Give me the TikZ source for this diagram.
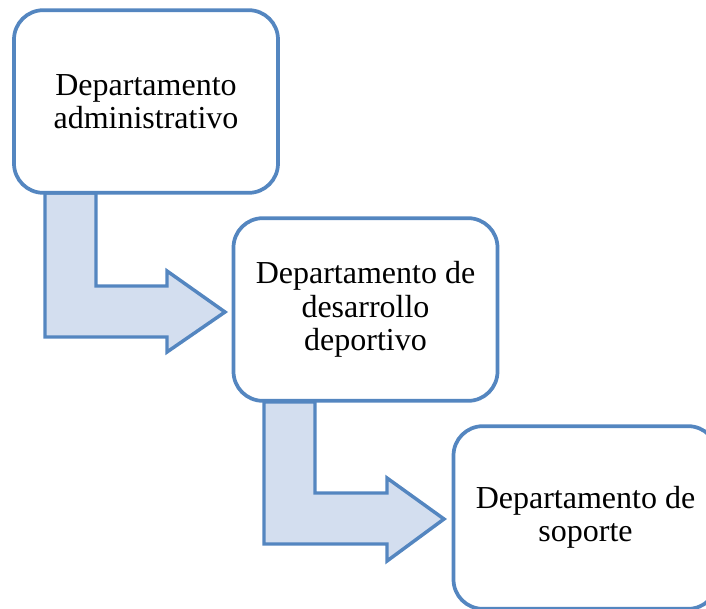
\documentclass[tikz,border=0pt]{standalone}
\usepackage{fontspec}
\setmainfont{Liberation Serif}
\definecolor{bordeazul}{RGB}{84,134,192}
\definecolor{rellenoazul}{RGB}{211,222,239}
\tikzset{
  deptbox/.style={draw=bordeazul, line width=2.8pt, fill=white, rounded corners=22pt,
    minimum width=198pt, minimum height=137pt, align=center,
    font=\fontsize{24}{25}\selectfont},
  bentarrow/.style={draw=bordeazul, line width=2.6pt, fill=rellenoazul, line join=miter}
}
\begin{document}
\begin{tikzpicture}[x=0.75pt,y=-0.75pt]
\clip (0,0) rectangle (706,608);
\useasboundingbox (0,0) rectangle (706,608);

% bent arrows (under the boxes)
\draw[bentarrow] (45,193) -- ++(51,0) -- ++(0,93) -- ++(71,0) -- ++(0,-15)
  -- ++(58,41) -- ++(-58,40) -- ++(0,-15) -- ++(-122,0) -- cycle;
\draw[bentarrow] (264,402) -- ++(51,0) -- ++(0,91) -- ++(72,0) -- ++(0,-15)
  -- ++(57,41) -- ++(-57,42) -- ++(0,-17) -- ++(-123,0) -- cycle;

% departamentos
\node[deptbox] (admin) at (146,101.5) {Departamento\\administrativo};
\node[deptbox] (desarrollo) at (365.5,309.5) {Departamento de\\desarrollo\\deportivo};
\node[deptbox] (soporte) at (585.5,517.5) {Departamento de\\soporte};
\end{tikzpicture}
\end{document}
